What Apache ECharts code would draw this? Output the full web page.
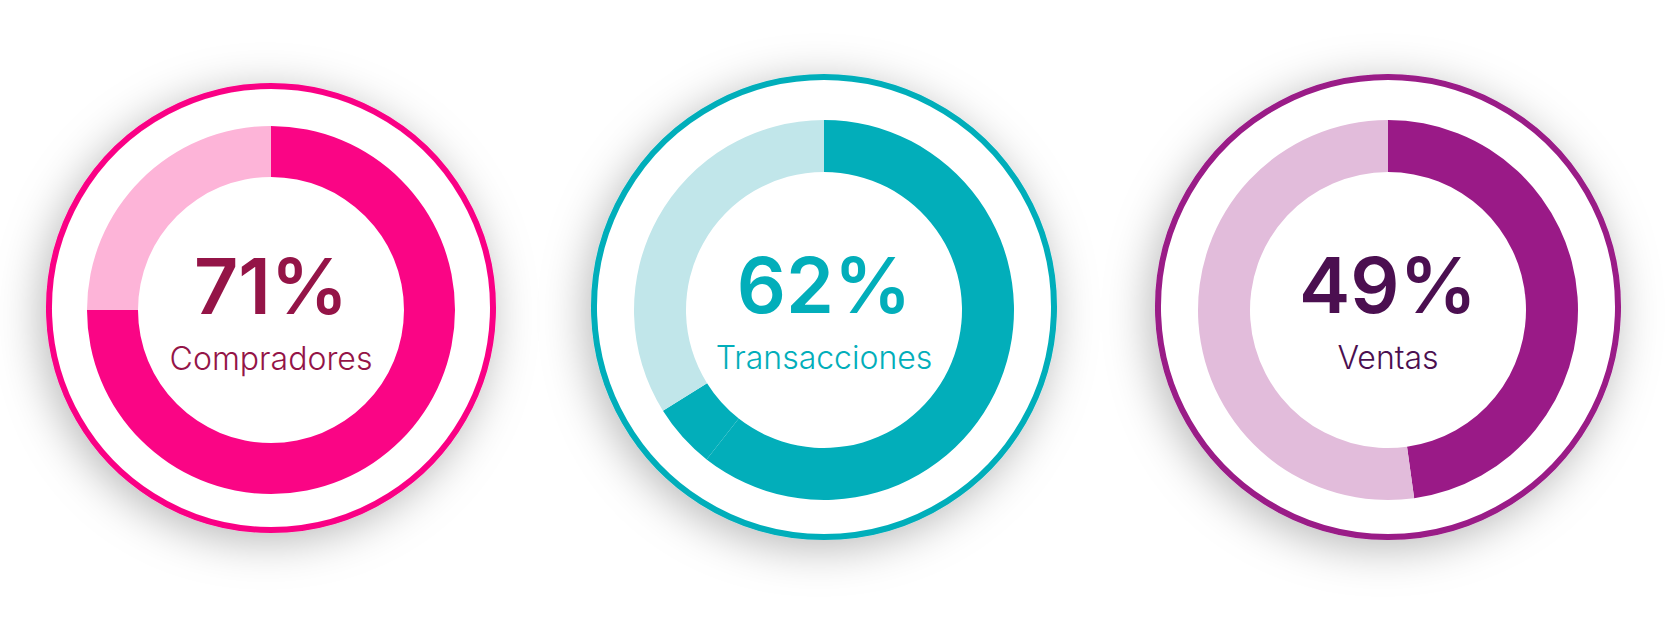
<!DOCTYPE html>
<html>
<head>
<meta charset="utf-8">
<script src="https://cdn.jsdelivr.net/npm/echarts@6/dist/echarts.min.js"></script>
<style>
html,body{margin:0;padding:0;background:#ffffff;}
#chart{width:1667px;height:622px;}
</style>
</head>
<body>
<div id="chart"></div>
<script>
// ---- data ----
const categories = ['Compradores', 'Transacciones', 'Ventas'];
const percentLabels = [71, 62, 49];          // numbers printed in the centre
const arcFilled = [75, 60.6, 47.8];          // dark arc
const arcExtra  = [0, 5.5, 0];               // extra dark wedge (second chart)
const arcRest   = [25, 33.9, 52.2];          // light remainder

// ---- layout & style ----
const layout = [
  { ringC: [271, 308], ringR: 222, donutC: [271, 310], inner: 133, outer: 184 },
  { ringC: [824, 307], ringR: 230, donutC: [824, 310], inner: 138, outer: 190 },
  { ringC: [1388, 307], ringR: 230, donutC: [1388, 310], inner: 138, outer: 190 }
];
const styles = [
  { dark: '#FA0585', light: '#FDB4D8', ring: '#FA0585', text: '#941447' },
  { dark: '#02AEBA', light: '#C1E6EA', ring: '#02AEBA', text: '#02AEBA' },
  { dark: '#9A1A87', light: '#E2BCDB', ring: '#9A1A87', text: '#4B0F50' }
];

const series = [];
categories.forEach((name, i) => {
  const L = layout[i], S = styles[i];
  series.push({
    type: 'pie',
    silent: true,
    center: L.ringC,
    radius: [0, L.ringR],
    startAngle: 90,
    z: 1,
    emphasis: { disabled: true },
    itemStyle: {
      color: '#ffffff',
      borderColor: S.ring,
      borderWidth: 6,
      shadowBlur: 45,
      shadowColor: 'rgba(0,0,0,0.28)',
      shadowOffsetX: -5,
      shadowOffsetY: 8
    },
    label: {
      show: true,
      position: 'center',
      formatter: '{a|' + percentLabels[i] + '%}\n{b|' + name + '}',
      rich: {
        a: { fontFamily: 'Inter', fontWeight: 600, fontSize: 77, color: S.text, lineHeight: 100, align: 'center' },
        b: { fontFamily: 'Inter', fontWeight: 300, fontSize: 32, color: S.text, lineHeight: 44, align: 'center' }
      }
    },
    labelLine: { show: false },
    data: [{ value: 1, name: name }]
  });
  series.push({
    type: 'pie',
    silent: true,
    center: L.donutC,
    radius: [L.inner, L.outer],
    startAngle: 90,
    clockwise: true,
    z: 2,
    emphasis: { disabled: true },
    label: { show: false },
    labelLine: { show: false },
    itemStyle: { borderWidth: 0 },
    data: [
      { value: arcFilled[i], itemStyle: { color: S.dark } },
      { value: arcExtra[i], itemStyle: { color: S.dark } },
      { value: arcRest[i], itemStyle: { color: S.light } }
    ]
  });
});

const chart = echarts.init(document.getElementById('chart'), null, { renderer: 'svg' });
chart.setOption({
  backgroundColor: '#ffffff',
  animation: false,
  series: series
});
</script>
</body>
</html>
